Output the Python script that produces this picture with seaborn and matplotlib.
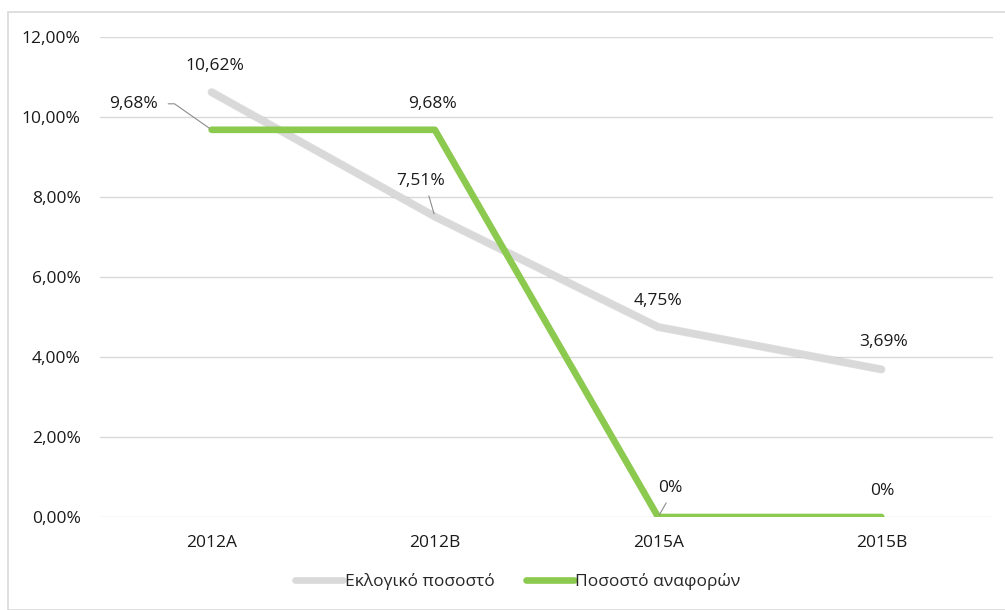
import pandas as pd
import matplotlib.pyplot as plt
import seaborn as sns
from matplotlib.ticker import FuncFormatter
from matplotlib.patches import Rectangle

# data
categories = ['2012A', '2012B', '2015A', '2015B']
vote_share = [10.62, 7.51, 4.75, 3.69]      # Εκλογικό ποσοστό
report_share = [9.68, 9.68, 0.0, 0.0]       # Ποσοστό αναφορών
series_names = ['Εκλογικό ποσοστό', 'Ποσοστό αναφορών']
tick_values = [0, 2, 4, 6, 8, 10, 12]

df = pd.DataFrame({
    'cat': categories * 2,
    'x': list(range(len(categories))) * 2,
    'value': vote_share + report_share,
    'series': [series_names[0]] * 4 + [series_names[1]] * 4,
})

sns.set_theme(style='white')
plt.rcParams['font.family'] = ['Open Sans', 'DejaVu Sans']
FS = 12.5

fig = plt.figure(figsize=(10.05, 6.1), dpi=100)
ax = fig.add_axes([100 / 1005, 1 - 517 / 610, 893 / 1005, 480 / 610])

# outer chart frame
fig.patches.append(Rectangle((8 / 1005, 0), 1, 1 - 12 / 610, transform=fig.transFigure,
                             fill=False, edgecolor='#d9d9d9', lw=1.2))

colors = {series_names[0]: '#d9d9d9', series_names[1]: '#8cc94f'}
sns.lineplot(data=df, x='x', y='value', hue='series', palette=colors,
             linewidth=4.8, ax=ax, legend=False, sort=False)
ax.lines[0].set_zorder(3)
ax.lines[1].set_zorder(4)
# subtle shadow under the grey line
ax.plot(df['x'][:4], df['value'][:4], color='#a8a8a8', lw=5.8, alpha=0.35, zorder=2)

ax.set_xlim(-0.5, len(categories) - 0.5)
ax.set_ylim(0, 12)
ax.set_yticks(tick_values)
ax.yaxis.set_major_formatter(FuncFormatter(lambda v, p: f'{v:.2f}%'.replace('.', ',')))
ax.set_xticks(range(len(categories)))
ax.set_xticklabels(categories)
ax.tick_params(axis='both', labelsize=FS, colors='#1a1a1a', length=0)
ax.tick_params(axis='x', pad=13)
ax.tick_params(axis='y', pad=14)
ax.grid(axis='y', color='#d9d9d9', lw=1)
ax.set_axisbelow(True)
for s in ax.spines.values():
    s.set_visible(False)
ax.set_xlabel('')
ax.set_ylabel('')


def fmt(v):
    return '0%' if v == 0 else f'{v:.2f}%'.replace('.', ',')


lead = dict(arrowstyle='-', color='#8c8c8c', lw=0.8, shrinkB=2)
# (x index, value, offset px, leader line)
labels = [
    (0, vote_share[0], (3, 26), None),
    (1, vote_share[1], (-14, 36), dict(lead, relpos=(0.62, 0), shrinkA=3, connectionstyle='arc3')),
    (2, vote_share[2], (0, 26), None),
    (3, vote_share[3], (2, 27), None),
    (0, report_share[0], (-78, 26),
     dict(lead, relpos=(1, 0.5), shrinkA=5, connectionstyle='angle,angleA=0,angleB=145,rad=0')),
    (1, report_share[1], (-2, 26), None),
    (2, report_share[2], (12, 29), dict(lead, relpos=(0.5, 0), shrinkA=3, connectionstyle='arc3')),
    (3, report_share[3], (1, 26), None),
]
for xi, v, off, arrow in labels:
    ax.annotate(fmt(v), xy=(xi, v), xytext=off, textcoords='offset pixels',
                ha='center', va='center', fontsize=FS, color='#1a1a1a',
                arrowprops=arrow, zorder=6)

handles = [plt.Line2D([], [], color=colors[n], lw=4.8) for n in series_names]
fig.legend(handles, series_names, loc='center', bbox_to_anchor=(518 / 1005, 1 - 582 / 610),
           ncol=2, frameon=False, fontsize=FS, handlelength=2.75, handletextpad=0.1,
           columnspacing=1.8)

plt.savefig('out.png', dpi=100)
